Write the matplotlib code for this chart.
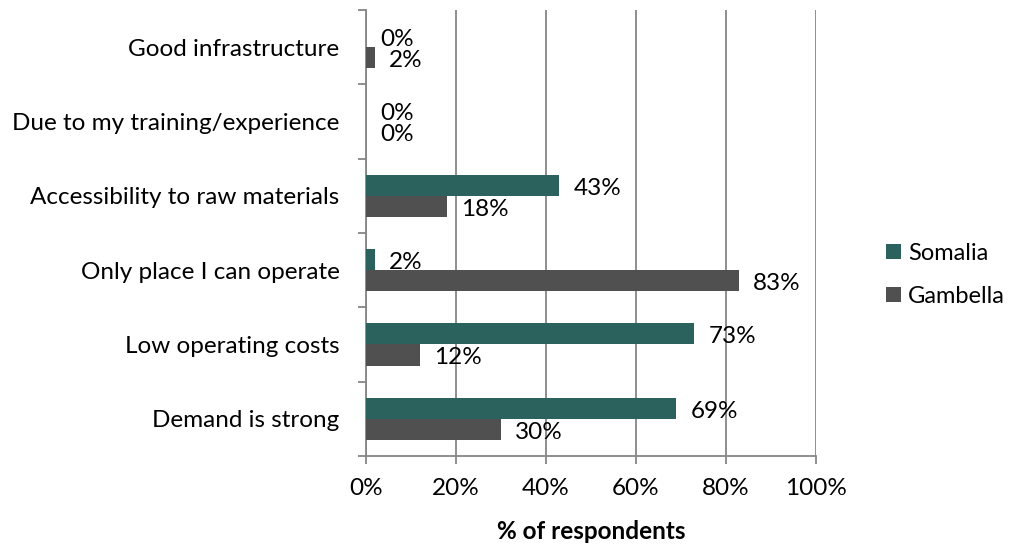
import matplotlib.pyplot as plt
import numpy as np

categories = ["Demand is strong", "Low operating costs", "Only place I can operate",
              "Accessibility to raw materials", "Due to my training/experience",
              "Good infrastructure"]
somalia = [69, 73, 2, 43, 0, 0]
gambella = [30, 12, 83, 18, 0, 2]
xticks = [0, 20, 40, 60, 80, 100]

plt.rcParams['font.family'] = ['Lato', 'DejaVu Sans']
plt.rcParams['font.size'] = 17.5

fig = plt.figure(figsize=(10.15, 5.44), dpi=100)
ax = fig.add_axes([0.3606, 0.1618, 0.4433, 0.8198])

y = np.arange(len(categories))
h = 0.285
teal = "#2C625E"
grey = "#505050"
b1 = ax.barh(y + h / 2, somalia, height=h, color=teal, label="Somalia", zorder=3)
b2 = ax.barh(y - h / 2, gambella, height=h, color=grey, label="Gambella", zorder=3)

# value labels just right of each bar end
for bars, vals in ((b1, somalia), (b2, gambella)):
    for bar, v in zip(bars, vals):
        ax.annotate(f"{v}%", (bar.get_width(), bar.get_y() + bar.get_height() / 2),
                    xytext=(10, -2), textcoords="offset points",
                    ha="left", va="center", color="black", zorder=4)

ax.set_xlim(0, 100)
ax.set_ylim(-0.5, len(categories) - 0.5)
ax.set_xticks(xticks)
ax.set_xticklabels([f"{t}%" for t in xticks])
ax.set_yticks(y)
ax.set_yticklabels(categories)
# tick marks sit between categories, like Excel
ax.set_yticks(np.arange(len(categories) + 1) - 0.5, minor=True)
ax.tick_params(axis="y", which="major", length=0, pad=19)
ax.tick_params(axis="y", which="minor", length=6, width=1.3, color="#868686", direction="out")
ax.tick_params(axis="x", length=6, width=1.3, color="#868686", pad=10)

ax.grid(axis="x", color="#868686", linewidth=1.3, zorder=0)
for s in ("top", "right"):
    ax.spines[s].set_visible(False)
for s in ("left", "bottom"):
    ax.spines[s].set_color("#868686")
    ax.spines[s].set_linewidth(1.3)

ax.set_xlabel("% of respondents", fontweight="bold", labelpad=15)

fig.legend(handles=[b1, b2], loc="center left", bbox_to_anchor=(0.852, 0.495),
           frameon=False, fontsize=17, handlelength=0.62, handleheight=0.62,
           handletextpad=0.3, labelspacing=0.95)

fig.savefig("out.png", dpi=100)
